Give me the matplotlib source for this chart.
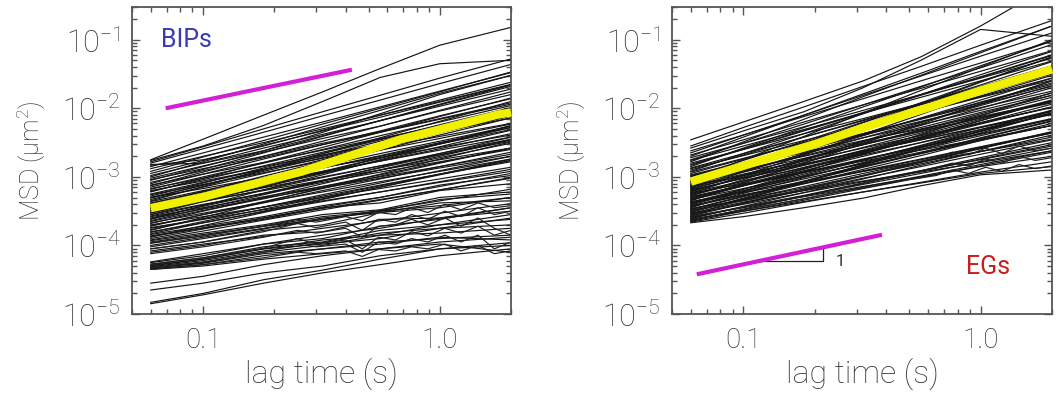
import numpy as np
import matplotlib
matplotlib.use("Agg")
import matplotlib.pyplot as plt
from matplotlib.ticker import FixedLocator, FixedFormatter, LogLocator, NullFormatter

plt.rcParams['font.family'] = ['Roboto', 'DejaVu Sans']
plt.rcParams['font.weight'] = 'light'
plt.rcParams['mathtext.default'] = 'regular'

# ---------------- data ----------------
lag = [0.06, 0.1, 0.18, 0.32, 0.56, 1.0, 2.0]

# log10 MSD for each trajectory (BIPs)
bips_log = [
    [-2.75, -2.45, -2.10, -1.76, -1.42, -1.08, -0.82],
    [-2.76, -2.55, -2.25, -1.90, -1.55, -1.35, -1.30],
    [-2.78, -2.56, -2.30, -2.05, -1.81, -1.56, -1.28],
    [-2.80, -2.59, -2.35, -2.11, -1.88, -1.64, -1.36],
    [-2.85, -2.65, -2.42, -2.20, -1.98, -1.75, -1.48],
    [-2.82, -2.80, -2.62, -2.35, -2.08, -1.80, -1.52],
    [-2.92, -2.71, -2.47, -2.23, -2.00, -1.76, -1.47],
    [-2.95, -2.76, -2.54, -2.33, -2.13, -1.91, -1.66],
    [-3.00, -2.78, -2.52, -2.27, -2.03, -1.78, -1.52],
    [-3.02, -2.84, -2.64, -2.44, -2.26, -2.04, -1.80],
    [-3.05, -2.85, -2.62, -2.40, -2.18, -1.95, -1.68],
    [-3.08, -2.91, -2.72, -2.53, -2.35, -2.16, -1.94],
    [-3.10, -2.89, -2.65, -2.41, -2.18, -1.94, -1.66],
    [-3.12, -2.96, -2.79, -2.61, -2.44, -2.26, -2.05],
    [-3.15, -2.96, -2.74, -2.53, -2.33, -2.11, -1.86],
    [-3.18, -3.00, -2.80, -2.60, -2.40, -2.20, -1.96],
    [-3.20, -3.06, -2.89, -2.73, -2.57, -2.41, -2.22],
    [-3.22, -3.02, -2.79, -2.57, -2.35, -2.12, -1.85],
    [-3.25, -3.08, -2.89, -2.70, -2.52, -2.33, -2.11],
    [-3.28, -3.09, -2.87, -2.66, -2.46, -2.24, -1.99],
    [-3.30, -3.17, -3.01, -2.86, -2.72, -2.57, -2.39],
    [-3.33, -3.15, -2.95, -2.75, -2.55, -2.35, -2.11],
    [-3.35, -3.14, -2.90, -2.66, -2.43, -2.19, -1.90],
    [-3.38, -3.22, -3.05, -2.87, -2.70, -2.52, -2.31],
    [-3.40, -3.21, -2.99, -2.78, -2.58, -2.36, -2.11],
    [-3.42, -3.25, -3.06, -2.87, -2.69, -2.50, -2.28],
    [-3.45, -3.25, -3.02, -2.80, -2.58, -2.35, -2.08],
    [-3.47, -3.33, -3.16, -3.00, -2.84, -2.68, -2.48],
    [-3.50, -3.32, -3.12, -2.92, -2.72, -2.52, -2.28],
    [-3.52, -3.36, -3.19, -3.01, -2.84, -2.66, -2.45],
    [-3.55, -3.36, -3.14, -2.93, -2.73, -2.51, -2.26],
    [-3.58, -3.45, -3.29, -3.14, -3.00, -2.85, -2.67],
    [-3.60, -3.43, -3.24, -3.05, -2.87, -2.68, -2.46],
    [-3.62, -3.42, -3.19, -2.97, -2.75, -2.52, -2.25],
    [-3.65, -3.49, -3.32, -3.14, -2.97, -2.79, -2.58],
    [-3.68, -3.50, -3.30, -3.10, -2.90, -2.70, -2.46],
    [-3.70, -3.58, -3.44, -3.30, -3.17, -3.03, -2.86],
    [-3.72, -3.55, -3.36, -3.17, -2.99, -2.80, -2.58],
    [-3.75, -3.61, -3.44, -3.28, -3.12, -2.96, -2.76],
    [-3.78, -3.59, -3.37, -3.16, -2.96, -2.74, -2.49],
    [-3.80, -3.67, -3.51, -3.36, -3.22, -3.07, -2.89],
    [-3.83, -3.67, -3.50, -3.32, -3.15, -2.97, -2.76],
    [-3.86, -3.74, -3.60, -3.46, -3.33, -3.19, -3.02],
    [-3.88, -3.71, -3.52, -3.33, -3.15, -2.96, -2.74],
    [-3.92, -3.79, -3.63, -3.48, -3.34, -3.19, -3.01],
    [-3.95, -3.84, -3.72, -3.58, -3.50, -3.33, -3.25],
    [-4.02, -3.90, -3.76, -3.62, -3.49, -3.35, -3.18],
    [-4.05, -3.95, -3.78, -3.70, -3.52, -3.45, -3.30],
    [-4.08, -3.98, -3.87, -3.75, -3.64, -3.53, -3.39],
    [-4.10, -4.00, -3.85, -3.80, -3.62, -3.60, -3.45],
    [-4.24, -4.12, -3.98, -3.85, -3.75, -3.60, -3.50],
    [-4.27, -4.18, -4.02, -3.95, -3.78, -3.70, -3.55],
    [-4.30, -4.20, -4.05, -3.98, -3.90, -3.75, -3.70],
    [-4.32, -4.25, -4.10, -4.00, -3.85, -3.82, -3.75],
    [-4.33, -4.26, -4.12, -4.05, -3.95, -3.90, -3.85],
    [-4.35, -4.30, -4.20, -4.12, -4.05, -3.98, -4.10],
    [-4.55, -4.45, -4.28, -4.15, -4.05, -3.95, -3.88],
    [-4.65, -4.55, -4.40, -4.30, -4.15, -4.05, -4.00],
    [-4.83, -4.70, -4.50, -4.36, -4.20, -4.05, -3.96],
    [-4.85, -4.72, -4.55, -4.40, -4.28, -4.15, -4.05],
    [-2.88, -2.70, -2.50, -2.30, -2.10, -1.90, -1.65],
    [-2.98, -2.80, -2.58, -2.38, -2.18, -1.97, -1.72],
    [-3.04, -2.88, -2.70, -2.51, -2.34, -2.15, -1.92],
    [-3.13, -2.93, -2.70, -2.48, -2.26, -2.03, -1.76],
    [-3.17, -3.02, -2.85, -2.68, -2.52, -2.35, -2.14],
    [-3.21, -3.04, -2.84, -2.64, -2.45, -2.25, -2.02],
    [-3.26, -3.11, -2.94, -2.77, -2.61, -2.44, -2.23],
    [-3.31, -3.12, -2.90, -2.69, -2.48, -2.26, -2.00],
    [-3.36, -3.20, -3.02, -2.84, -2.66, -2.48, -2.26],
    [-3.39, -3.24, -3.08, -2.92, -2.77, -2.61, -2.42],
    [-3.43, -3.24, -3.02, -2.81, -2.61, -2.39, -2.14],
    [-3.46, -3.30, -3.12, -2.94, -2.77, -2.59, -2.37],
    [-3.49, -3.35, -3.20, -3.05, -2.90, -2.75, -2.58],
    [-3.53, -3.35, -3.15, -2.95, -2.76, -2.56, -2.32],
    [-3.57, -3.41, -3.24, -3.06, -2.90, -2.72, -2.51],
    [-3.61, -3.47, -3.31, -3.16, -3.02, -2.87, -2.70],
    [-3.64, -3.46, -3.26, -3.06, -2.86, -2.66, -2.42],
    [-3.67, -3.53, -3.37, -3.22, -3.07, -2.92, -2.74],
    [-3.71, -3.55, -3.38, -3.20, -3.03, -2.85, -2.64],
    [-3.74, -3.62, -3.48, -3.35, -3.22, -3.08, -2.92],
    [-3.77, -3.61, -3.44, -3.26, -3.09, -2.91, -2.70],
    [-3.81, -3.65, -3.47, -3.30, -3.13, -2.96, -2.78],
    [-3.84, -3.72, -3.58, -3.42, -3.30, -3.12, -2.98],
    [-3.87, -3.75, -3.62, -3.45, -3.38, -3.20, -3.10],
    [-3.90, -3.76, -3.60, -3.44, -3.30, -3.14, -2.95],
    [-3.93, -3.82, -3.70, -3.55, -3.48, -3.30, -3.22],
    [-3.97, -3.86, -3.72, -3.62, -3.50, -3.42, -3.30],
    [-4.00, -3.88, -3.75, -3.60, -3.52, -3.38, -3.35],
    [-4.25, -4.15, -3.98, -3.90, -3.72, -3.62, -3.45],
    [-4.29, -4.20, -4.05, -3.92, -3.85, -3.70, -3.62],
    [-4.31, -4.22, -4.08, -3.96, -3.82, -3.75, -3.60],
    [-4.34, -4.28, -4.15, -4.05, -3.98, -3.88, -3.92],
    [-3.30, -3.12, -2.92, -2.72, -2.53, -2.33, -2.10],
    [-3.55, -3.40, -3.25, -3.08, -2.93, -2.78, -2.60],
    [-2.83, -2.75, -2.55, -2.32, -2.10, -1.88, -1.62],
]

# log10 MSD for each trajectory (EGs)
egs_log = [
    [-2.46, -2.20, -1.90, -1.60, -1.25, -0.80, -0.20],
    [-2.55, -2.28, -1.98, -1.68, -1.39, -1.08, -0.72],
    [-2.58, -2.33, -2.05, -1.70, -1.30, -0.85, -0.95],
    [-2.62, -2.39, -2.12, -1.86, -1.60, -1.34, -1.02],
    [-2.65, -2.39, -2.10, -1.81, -1.53, -1.24, -0.90],
    [-2.68, -2.46, -2.20, -1.95, -1.71, -1.46, -1.16],
    [-2.70, -2.42, -2.10, -1.79, -1.49, -1.17, -0.80],
    [-2.72, -2.51, -2.27, -2.03, -1.80, -1.56, -1.27],
    [-2.75, -2.51, -2.23, -1.95, -1.68, -1.41, -1.07],
    [-2.78, -2.49, -2.16, -1.83, -1.52, -1.19, -0.80],
    [-2.80, -2.60, -2.37, -2.15, -1.93, -1.70, -1.43],
    [-2.83, -2.60, -2.33, -2.07, -1.81, -1.55, -1.23],
    [-2.85, -2.58, -2.28, -1.98, -1.69, -1.38, -1.02],
    [-2.88, -2.69, -2.47, -2.26, -2.06, -1.84, -1.59],
    [-2.90, -2.68, -2.42, -2.17, -1.93, -1.68, -1.38],
    [-2.92, -2.66, -2.37, -2.08, -1.80, -1.51, -1.17],
    [-2.95, -2.74, -2.50, -2.26, -2.03, -1.79, -1.50],
    [-2.97, -2.79, -2.59, -2.39, -2.19, -1.99, -1.75],
    [-3.00, -2.76, -2.48, -2.20, -1.93, -1.66, -1.32],
    [-3.02, -2.82, -2.59, -2.37, -2.15, -1.92, -1.65],
    [-3.04, -2.82, -2.56, -2.31, -2.07, -1.82, -1.52],
    [-3.06, -2.89, -2.70, -2.51, -2.33, -2.14, -1.92],
    [-3.08, -2.81, -2.51, -2.21, -1.92, -1.61, -1.25],
    [-3.10, -2.91, -2.69, -2.48, -2.28, -2.06, -1.81],
    [-3.12, -2.91, -2.67, -2.43, -2.20, -1.96, -1.67],
    [-3.14, -2.98, -2.81, -2.63, -2.46, -2.28, -2.07],
    [-3.16, -2.93, -2.66, -2.40, -2.14, -1.88, -1.56],
    [-3.18, -2.98, -2.75, -2.53, -2.31, -2.08, -1.81],
    [-3.20, -3.02, -2.82, -2.62, -2.42, -2.22, -1.98],
    [-3.22, -3.00, -2.74, -2.49, -2.25, -2.00, -1.70],
    [-3.24, -3.10, -2.93, -2.77, -2.61, -2.45, -2.25],
    [-3.26, -3.06, -2.83, -2.61, -2.39, -2.16, -1.89],
    [-3.28, -3.04, -2.76, -2.48, -2.21, -1.94, -1.60],
    [-3.30, -3.13, -2.94, -2.75, -2.57, -2.38, -2.16],
    [-3.32, -3.13, -2.91, -2.70, -2.50, -2.28, -2.03],
    [-3.34, -3.13, -2.89, -2.65, -2.42, -2.18, -1.89],
    [-3.36, -3.23, -3.07, -2.92, -2.78, -2.63, -2.45],
    [-3.38, -3.20, -3.00, -2.80, -2.60, -2.40, -2.16],
    [-3.40, -3.18, -2.92, -2.67, -2.43, -2.18, -1.88],
    [-3.42, -3.26, -3.09, -2.91, -2.74, -2.56, -2.35],
    [-3.44, -3.24, -3.01, -2.79, -2.57, -2.34, -2.07],
    [-3.46, -3.34, -3.20, -3.06, -2.93, -2.79, -2.62],
    [-3.48, -3.29, -3.07, -2.86, -2.66, -2.44, -2.19],
    [-3.50, -3.33, -3.14, -2.95, -2.77, -2.58, -2.36],
    [-3.52, -3.31, -3.07, -2.83, -2.60, -2.36, -2.07],
    [-3.54, -3.40, -3.23, -3.07, -2.91, -2.75, -2.55],
    [-3.56, -3.38, -3.18, -2.98, -2.78, -2.58, -2.34],
    [-3.58, -3.45, -3.29, -3.14, -3.00, -2.85, -2.70],
    [-3.60, -3.44, -3.27, -3.09, -2.92, -2.74, -2.53],
    [-3.62, -3.50, -3.36, -3.22, -3.09, -2.95, -2.85],
    [-3.64, -3.47, -3.28, -3.09, -2.91, -2.72, -2.50],
    [-3.66, -3.53, -3.37, -3.22, -3.08, -2.93, -2.78],
    [-3.67, -3.58, -3.45, -3.31, -3.13, -2.97, -2.90],
    [-3.05, -2.75, -2.41, -2.07, -1.74, -1.40, -1.00],
    [-3.15, -2.87, -2.55, -2.24, -1.94, -1.62, -1.25],
    [-3.25, -2.98, -2.68, -2.38, -2.09, -1.78, -1.42],
    [-3.35, -3.09, -2.80, -2.51, -2.23, -1.94, -1.60],
    [-2.98, -2.82, -2.65, -2.47, -2.30, -2.12, -1.91],
    [-3.45, -3.21, -2.93, -2.65, -2.38, -2.11, -1.77],
    [-3.55, -3.33, -3.07, -2.82, -2.58, -2.33, -2.03],
    [-2.87, -2.66, -2.42, -2.18, -1.95, -1.71, -1.42],
    [-2.93, -2.73, -2.50, -2.28, -2.06, -1.83, -1.56],
    [-2.99, -2.80, -2.58, -2.37, -2.16, -1.94, -1.68],
    [-3.03, -2.85, -2.64, -2.43, -2.24, -2.03, -1.78],
    [-3.07, -2.86, -2.62, -2.38, -2.15, -1.91, -1.63],
    [-3.11, -2.93, -2.73, -2.53, -2.34, -2.14, -1.90],
    [-3.13, -2.96, -2.77, -2.58, -2.40, -2.21, -1.99],
    [-3.17, -2.97, -2.75, -2.53, -2.32, -2.10, -1.84],
    [-3.19, -3.02, -2.83, -2.64, -2.46, -2.27, -2.05],
    [-3.21, -3.01, -2.79, -2.57, -2.36, -2.14, -1.88],
    [-3.23, -3.06, -2.87, -2.68, -2.50, -2.31, -2.09],
    [-3.27, -3.08, -2.86, -2.65, -2.45, -2.23, -1.98],
    [-3.29, -3.12, -2.93, -2.74, -2.56, -2.37, -2.15],
    [-3.31, -3.11, -2.88, -2.66, -2.44, -2.21, -1.94],
    [-3.33, -3.17, -2.99, -2.81, -2.64, -2.46, -2.25],
    [-3.37, -3.18, -2.96, -2.75, -2.55, -2.33, -2.08],
    [-3.39, -3.22, -3.03, -2.84, -2.66, -2.47, -2.25],
    [-3.41, -3.21, -2.98, -2.76, -2.54, -2.31, -2.04],
    [-3.43, -3.27, -3.10, -2.92, -2.75, -2.57, -2.36],
    [-3.47, -3.28, -3.06, -2.85, -2.65, -2.43, -2.18],
    [-3.49, -3.33, -3.16, -2.98, -2.81, -2.63, -2.42],
    [-3.51, -3.32, -3.10, -2.89, -2.69, -2.47, -2.22],
    [-3.53, -3.37, -3.20, -3.02, -2.85, -2.67, -2.46],
    [-3.57, -3.39, -3.19, -2.99, -2.79, -2.59, -2.35],
    [-3.59, -3.44, -3.28, -3.11, -2.95, -2.78, -2.58],
    [-3.61, -3.43, -3.23, -3.03, -2.83, -2.63, -2.39],
    [-3.63, -3.48, -3.32, -3.15, -2.99, -2.82, -2.62],
    [-3.65, -3.50, -3.34, -3.17, -3.01, -2.84, -2.64],
    [-2.76, -2.55, -2.31, -2.07, -1.84, -1.60, -1.31],
    [-2.82, -2.59, -2.32, -2.06, -1.80, -1.54, -1.22],
]

# trajectories with noisy long-lag tails, on a finer lag grid
lag_fine = [0.06, 0.1, 0.18, 0.25, 0.3, 0.4, 0.47, 0.55, 0.65, 0.76, 0.89, 1.05, 1.23, 1.45, 1.7, 2.0]
bips_noisy_log = [
    [-4.05, -3.95, -3.80, -3.68, -3.74, -3.66, -3.78, -3.62, -3.66, -3.55, -3.62, -3.50, -3.58, -3.45, -3.55, -3.50],
    [-4.28, -4.18, -4.04, -3.90, -3.98, -3.92, -4.05, -3.88, -3.92, -3.80, -3.86, -3.75, -3.82, -3.72, -3.85, -3.78],
    [-4.32, -4.24, -4.10, -3.98, -4.02, -3.98, -4.10, -3.95, -3.98, -3.90, -3.95, -3.85, -3.95, -3.85, -4.05, -3.95],
    [-4.12, -4.02, -3.88, -3.78, -3.82, -3.75, -3.88, -3.72, -3.70, -3.62, -3.70, -3.60, -3.72, -3.60, -3.75, -3.85],
    [-3.96, -3.86, -3.72, -3.62, -3.66, -3.58, -3.64, -3.52, -3.55, -3.45, -3.52, -3.40, -3.48, -3.38, -3.45, -3.42],
    [-4.35, -4.28, -4.18, -4.10, -4.12, -4.08, -4.16, -4.06, -4.08, -4.02, -4.05, -3.98, -4.08, -4.00, -4.12, -4.08],
]
egs_noisy_log = [
    [-3.62, -3.48, -3.32, -3.22, -3.18, -3.10, -3.05, -3.02, -2.98, -2.90, -2.95, -2.86, -2.92, -2.82, -2.88, -2.84],
    [-3.58, -3.44, -3.28, -3.18, -3.12, -3.02, -2.98, -2.92, -2.86, -2.80, -2.84, -2.74, -2.80, -2.70, -2.76, -2.72],
    [-3.50, -3.35, -3.18, -3.06, -3.00, -2.90, -2.84, -2.78, -2.72, -2.64, -2.68, -2.58, -2.66, -2.55, -2.62, -2.58],
]

# ensemble averages (yellow)
bips_mean_lag = [0.06, 0.1, 0.26, 0.68, 1.76, 2.0]
bips_mean_msd = [3.5e-4, 5.1e-4, 1.19e-3, 3.5e-3, 8.1e-3, 8.7e-3]
egs_mean_lag = [0.06, 0.1, 0.2, 0.35, 0.6, 1.0, 1.5, 2.0]
egs_mean_msd = [8.5e-4, 1.45e-3, 3.0e-3, 5.75e-3, 1.02e-2, 1.82e-2, 2.75e-2, 3.7e-2]

# reference slope lines (magenta)
bips_ref_lag = [0.0694, 0.425]
bips_ref_msd = [1.0e-2, 3.65e-2]
egs_ref_lag = [0.0636, 0.384]
egs_ref_msd = [3.79e-5, 1.43e-4]

# slope triangle (EGs)
tri_lag = [0.1176, 0.2166, 0.2166]
tri_msd = [5.93e-5, 5.93e-5, 9.4e-5]

x_ticks = [0.1, 1.0]
x_ticklabels = ['0.1', '1.0']
y_ticks = [1e-5, 1e-4, 1e-3, 1e-2, 1e-1]
y_ticklabels = [r'$\mathregular{10^{-5}}$', r'$\mathregular{10^{-4}}$', r'$\mathregular{10^{-3}}$',
                r'$\mathregular{10^{-2}}$', r'$\mathregular{10^{-1}}$']

# ---------------- figure ----------------
W, H = 1064, 398
fig = plt.figure(figsize=(W / 100, H / 100), dpi=100)
ax1 = fig.add_axes([132 / W, 1 - 314 / H, 379 / W, 307 / H])
ax2 = fig.add_axes([672 / W, 1 - 314 / H, 380 / W, 307 / H])

txt_col = '#333333'
spine_col = '#555555'

for ax, lines, noisy, mlag, mmsd, rlag, rmsd in [
        (ax1, bips_log, bips_noisy_log, bips_mean_lag, bips_mean_msd, bips_ref_lag, bips_ref_msd),
        (ax2, egs_log, egs_noisy_log, egs_mean_lag, egs_mean_msd, egs_ref_lag, egs_ref_msd)]:
    for row in lines:
        ax.plot(lag, [10 ** v for v in row], color='#151515', lw=0.85, zorder=2)
    for row in noisy:
        ax.plot(lag_fine, [10 ** v for v in row], color='#202020', lw=0.85, zorder=2)
    ax.plot(mlag, mmsd, color='#f0f000', lw=6.0, solid_capstyle='butt', zorder=4, clip_on=False)
    ax.plot(rlag, rmsd, color='#d420d4', lw=3.0, solid_capstyle='butt', zorder=4)
    ax.set_xscale('log')
    ax.set_yscale('log')
    ax.set_xlim(0.05, 2.0)
    ax.set_ylim(1e-5, 0.3)
    ax.xaxis.set_major_locator(FixedLocator(x_ticks))
    ax.xaxis.set_major_formatter(FixedFormatter(x_ticklabels))
    ax.xaxis.set_minor_locator(LogLocator(base=10, subs=np.arange(2, 10)))
    ax.xaxis.set_minor_formatter(NullFormatter())
    ax.yaxis.set_major_locator(FixedLocator(y_ticks))
    ax.yaxis.set_major_formatter(FixedFormatter(y_ticklabels))
    ax.yaxis.set_minor_locator(LogLocator(base=10, subs=np.arange(2, 10)))
    ax.yaxis.set_minor_formatter(NullFormatter())
    ax.tick_params(which='both', direction='in', top=True, right=True, color=spine_col, width=1.0)
    ax.tick_params(which='major', length=6)
    ax.tick_params(which='minor', length=3.5)
    ax.tick_params(axis='x', which='major', labelsize=20, labelcolor=txt_col, pad=9)
    ax.tick_params(axis='y', which='major', labelsize=22, labelcolor=txt_col, pad=8)
    for s in ax.spines.values():
        s.set_color(spine_col)
        s.set_linewidth(1.3)
    ax.set_xlabel('lag time (s)', fontsize=23, color=txt_col, fontweight='light', labelpad=3)
    ax.set_ylabel('MSD (μm$^2$)', fontsize=18, color=txt_col, fontweight='light', labelpad=10)

ax1.text(0.066, 0.0986, 'BIPs', fontsize=18, color='#3a3ab4', fontweight='normal', va='center', ha='left')
ax2.plot(tri_lag, tri_msd, color='#222222', lw=0.9, zorder=3)
ax2.text(0.255, 5.9e-5, '1', fontsize=12, color='#333333', fontweight='normal', va='center', ha='center')
ax2.text(1.07, 4.8e-5, 'EGs', fontsize=18, color='#c81e1e', fontweight='normal', va='center', ha='center')

fig.savefig('out.png', dpi=100)
